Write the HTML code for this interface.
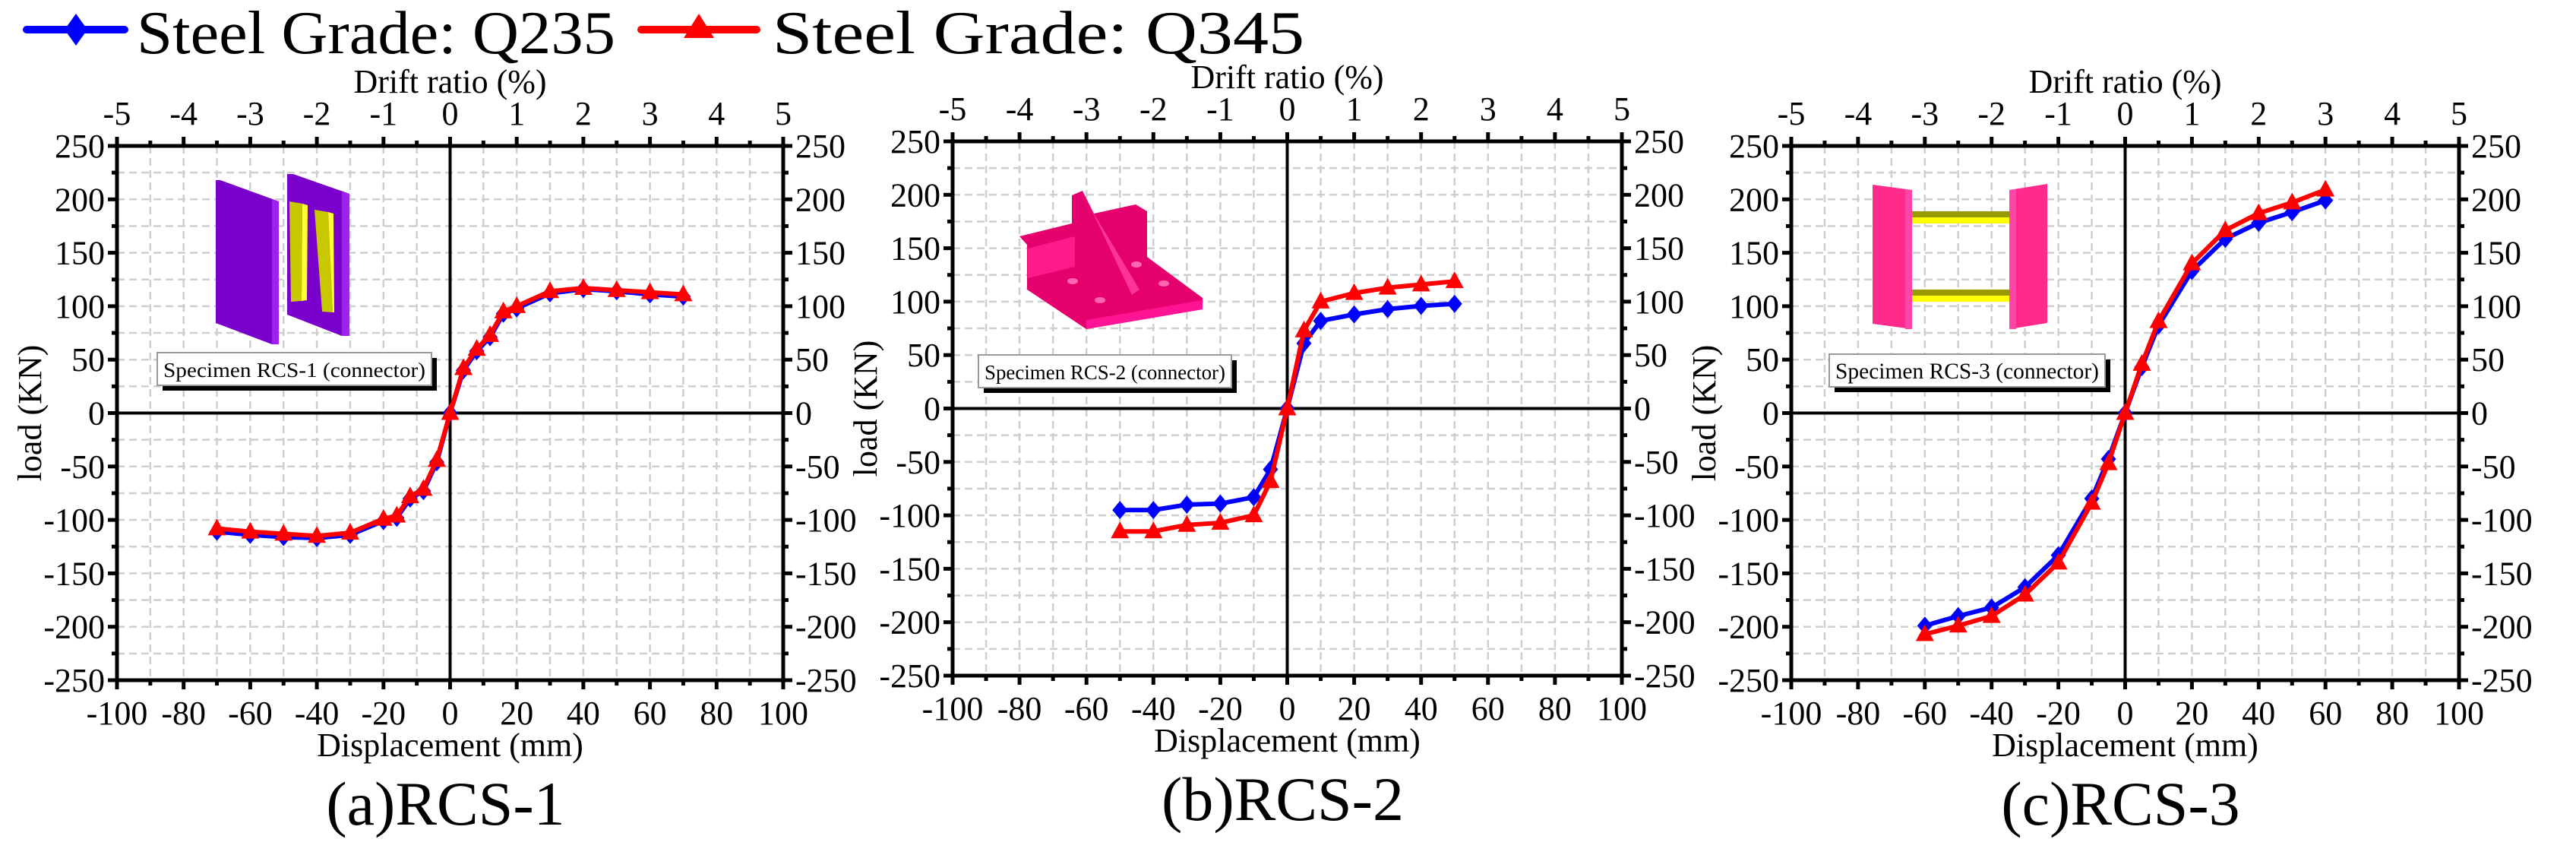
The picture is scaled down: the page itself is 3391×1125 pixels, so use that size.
<!DOCTYPE html>
<html><head><meta charset="utf-8"><style>
html,body{margin:0;padding:0;background:#fff;}
svg, svg text{font-family:"Liberation Serif","Times New Roman",serif;}
svg{display:block;}
</style></head><body>
<svg id="fig" width="3391" height="1125" viewBox="0 0 3391 1125" xmlns="http://www.w3.org/2000/svg" font-family="Liberation Serif, serif">
<g>
 <g>
  <line x1="35" y1="39" x2="164" y2="39" stroke="#0000ff" stroke-width="10" stroke-linecap="round"/>
  <polygon points="100,18 115,39 100,60 85,39" fill="#0000ff"/>
  <text x="180" y="70" font-size="80" style="font-family:'Liberation Serif',serif" textLength="630" lengthAdjust="spacingAndGlyphs">Steel Grade: Q235</text>
 </g>
 <g>
  <line x1="844" y1="39" x2="996" y2="39" stroke="#ff0000" stroke-width="10" stroke-linecap="round"/>
  <polygon points="920,18 940,50 900,50" fill="#ff0000"/>
  <text x="1017" y="70" font-size="80" style="font-family:'Liberation Serif',serif" textLength="700" lengthAdjust="spacingAndGlyphs">Steel Grade: Q345</text>
 </g>
</g>
<g id="panels"></g>
</svg>
<script>
// Panel 1 data
const p1X = [-70,-60,-50,-40,-30,-20,-16,-12,-8,-4,0,4,8,12,16,20,30,40,50,60,70];
const p1Q235 = [-111,-114,-116,-117,-114,-101,-98,-80,-73,-46,0,40,58,71,93,98,112,116,114,111,109];
const p1Q345 = [-108,-111,-113,-115,-112,-99,-96,-78,-71,-44,0,42,60,73,95,100,114,117,115,113,111];
// Panel 2 data
const p2X = [-50,-40,-30,-20,-10,-5,0,5,10,20,30,40,50];
const p2Q235 = [-95,-95,-90,-89,-83,-57,0,61,82,88,93,96,98];
const p2Q345 = [-115,-115,-109,-107,-100,-68,0,73,100,108,113,116,119];
// Panel 3 data
const p3X = [-60,-50,-40,-30,-20,-10,-5,0,5,10,20,30,40,50,60];
const p3Q235 = [-199,-190,-182,-163,-133,-80,-43,0,43,82,133,163,178,188,199];
const p3Q345 = [-207,-199,-190,-170,-140,-84,-47,0,46,86,140,171,187,197,209];
// Axis tick labels
const xTicks = [-100,-80,-60,-40,-20,0,20,40,60,80,100];
const driftTicks = [-5,-4,-3,-2,-1,0,1,2,3,4,5];
const yTicks = [-250,-200,-150,-100,-50,0,50,100,150,200,250];
const panelTitles = ['(a)RCS-1','(b)RCS-2','(c)RCS-3'];
const insetLabels = ['Specimen RCS-1 (connector)','Specimen RCS-2 (connector)','Specimen RCS-3 (connector)'];

const NS='http://www.w3.org/2000/svg';
function mk(parent,tag,attrs,txt){const e=document.createElementNS(NS,tag);for(const k in attrs)e.setAttribute(k,attrs[k]);if(txt!==undefined){e.textContent=txt;e.setAttribute('style',"font-family:'Liberation Serif',serif");}parent.appendChild(e);return e;}
const root=document.getElementById('panels');

const layouts=[{L:154,R:1031,T:192,B:895},{L:1254,R:2135,T:186,B:889},{L:2358,R:3237,T:192,B:895}];
const data=[[p1X,p1Q235,p1Q345],[p2X,p2Q235,p2Q345],[p3X,p3Q235,p3Q345]];

layouts.forEach((P,i)=>{
 const g=mk(root,'g',{});
 
 
 const sx=v=>P.L+(v+100)/200*(P.R-P.L);
 const sy=v=>P.B-(v+250)/500*(P.B-P.T);
 const cx=(P.L+P.R)/2;
 const grid=mk(g,'g',{stroke:'#cfcfcf','stroke-width':2.5,'stroke-dasharray':'10,6'});
 
 
 for(let v=-90;v<100;v+=10){mk(grid,'line',{x1:sx(v),x2:sx(v),y1:P.T,y2:P.B});}
 for(let v=-225;v<250;v+=25){mk(grid,'line',{x1:P.L,x2:P.R,y1:sy(v),y2:sy(v)});}
 mk(g,'line',{x1:sx(0),x2:sx(0),y1:P.T,y2:P.B,stroke:'#000','stroke-width':4});
 mk(g,'line',{x1:P.L,x2:P.R,y1:sy(0),y2:sy(0),stroke:'#000','stroke-width':4});
 const ins=mk(g,'g',{});
 
 
 if(i===0){
  mk(ins,'polygon',{points:'284,237 290,237 367,265 367,453 358,453 284,425',fill:'#7a00cc'});
  mk(ins,'polygon',{points:'358,262 367,265 367,453 358,453',fill:'#a020f0'});
  mk(ins,'polygon',{points:'378,229 386,229 460,255 460,442 450,442 378,414',fill:'#7a00cc'});
  mk(ins,'polygon',{points:'450,253 460,255 460,442 450,442',fill:'#a020f0'});
  mk(ins,'polygon',{points:'381,265 398,268 397,396 383,397',fill:'#c8c800'});
  mk(ins,'polygon',{points:'398,268 405,270 404,395 397,396',fill:'#ffff33'});
  mk(ins,'polygon',{points:'414,276 432,279 438,411 424,410',fill:'#c8c800'});
  mk(ins,'polygon',{points:'432,279 439,281 440,411 438,411',fill:'#ffff33'});
 } else if(i===1){
  mk(ins,'polygon',{points:'1342,311 1411,294 1411,257 1425,251 1440,281 1495,269 1510,278 1510,338 1583,392 1583,407 1430,433 1352,381 1352,322',fill:'#e6006e'});
  mk(ins,'polygon',{points:'1353,327 1415,311 1415,351 1353,366',fill:'#ff1a8c'});
  mk(ins,'polygon',{points:'1425,251 1440,281 1500,381 1490,388',fill:'#ff3399'});
  mk(ins,'polygon',{points:'1430,421 1583,395 1583,407 1430,433',fill:'#ff1493'});
  mk(ins,'ellipse',{cx:1412,cy:370,rx:7,ry:4,fill:'#ff66b2'});
  mk(ins,'ellipse',{cx:1448,cy:395,rx:7,ry:4,fill:'#ff66b2'});
  mk(ins,'ellipse',{cx:1496,cy:348,rx:7,ry:4,fill:'#ff66b2'});
  mk(ins,'ellipse',{cx:1532,cy:373,rx:7,ry:4,fill:'#ff66b2'});
 } else {
  mk(ins,'rect',{x:2517,y:278,width:128,height:8,fill:'#999900'});
  mk(ins,'rect',{x:2517,y:286,width:128,height:8,fill:'#ffff00'});
  mk(ins,'rect',{x:2517,y:381,width:128,height:8,fill:'#999900'});
  mk(ins,'rect',{x:2517,y:389,width:128,height:8,fill:'#ffff00'});
  mk(ins,'polygon',{points:'2465,243 2517,250 2517,433 2465,426',fill:'#ff2a8a'});
  mk(ins,'polygon',{points:'2508,249 2517,250 2517,433 2508,433',fill:'#ff44aa'});
  mk(ins,'polygon',{points:'2645,250 2695,242 2695,425 2645,433',fill:'#ff2a8a'});
  mk(ins,'polygon',{points:'2645,250 2654,249 2654,433 2645,433',fill:'#ff44aa'});
 }
 const lb=[{x:207,y:464,w:361,h:43},{x:1288,y:467,w:333,h:43},{x:2408,y:466,w:363,h:43}][i];
 const lab=mk(g,'g',{});
 
 
 mk(lab,'rect',{x:lb.x+7,y:lb.y+7,width:lb.w,height:lb.h,fill:'#000'});
 mk(lab,'rect',{x:lb.x,y:lb.y,width:lb.w,height:lb.h,fill:'#fff',stroke:'#999','stroke-width':2});
 mk(lab,'text',{x:lb.x+lb.w/2,y:lb.y+32,'font-size':i===2?30:27,'text-anchor':'middle',textLength:lb.w-16,lengthAdjust:'spacingAndGlyphs'},insetLabels[i]);
 mk(g,'rect',{x:P.L,y:P.T,width:P.R-P.L,height:P.B-P.T,fill:'none',stroke:'#000','stroke-width':5});
 const tk=mk(g,'g',{stroke:'#000','stroke-width':5});
 for(let v=-100;v<=100;v+=10){const major=v%20===0;const len=major?12:7;
  mk(tk,'line',{x1:sx(v),x2:sx(v),y1:P.B,y2:P.B+len});
  mk(tk,'line',{x1:sx(v),x2:sx(v),y1:P.T,y2:P.T-len});}
 for(let v=-250;v<=250;v+=25){const major=v%50===0;const len=major?12:7;
  mk(tk,'line',{x1:P.L,x2:P.L-len,y1:sy(v),y2:sy(v)});
  mk(tk,'line',{x1:P.R,x2:P.R+len,y1:sy(v),y2:sy(v)});}
 const xl=mk(g,'g',{'font-size':44,'text-anchor':'middle'});
 
 
 xTicks.forEach(v=>mk(xl,'text',{x:sx(v),y:P.B+58},String(v)));
 const tl=mk(g,'g',{'font-size':44,'text-anchor':'middle'});
 
 
 driftTicks.forEach(v=>mk(tl,'text',{x:sx(v*20),y:P.T-28},String(v)));
 const yl=mk(g,'g',{'font-size':44,'text-anchor':'end'});
 
 
 yTicks.forEach(v=>mk(yl,'text',{x:P.L-16,y:sy(v)+15},String(v)));
 const yr=mk(g,'g',{'font-size':44,'text-anchor':'start'});
 
 
 yTicks.forEach(v=>mk(yr,'text',{x:P.R+16,y:sy(v)+15},String(v)));
 const xt=mk(g,'text',{x:cx,y:P.B+100,'font-size':44,'text-anchor':'middle'},'Displacement (mm)');
 
 
 const dt=mk(g,'text',{x:cx,y:P.T-70,'font-size':44,'text-anchor':'middle'},'Drift ratio (%)');
 
 
 const ytx=P.L-100, yty=(P.T+P.B)/2;
 const yt=mk(g,'text',{x:ytx,y:yty,'font-size':44,'text-anchor':'middle',transform:'rotate(-90 '+ytx+' '+yty+')'},'load (KN)');
 
 
 const pt=mk(g,'text',{x:cx-6,y:P.B+190,'font-size':82,'text-anchor':'middle'},panelTitles[i]);
 
 
 const [xs,a,b]=data[i];
 [[a,'#0000ff','q235'],[b,'#ff0000','q345']].forEach(([ys,col,nm])=>{
  const sg=mk(g,'g',{});
  
  
  const pts=xs.map((x,k)=>sx(x)+','+sy(ys[k])).join(' ');
  mk(sg,'polyline',{points:pts,fill:'none',stroke:col,'stroke-width':6,'stroke-linejoin':'round'});
  xs.forEach((x,k)=>{const px=sx(x),py=sy(ys[k]);let m;
   if(nm==='q235'){m=mk(sg,'polygon',{points:`${px},${py-12} ${px+10},${py} ${px},${py+12} ${px-10},${py}`,fill:col});}
   else{m=mk(sg,'polygon',{points:`${px},${py-13} ${px+12},${py+9} ${px-12},${py+9}`,fill:col});}
   
   
  });
 });
});
</script>
</body></html>
